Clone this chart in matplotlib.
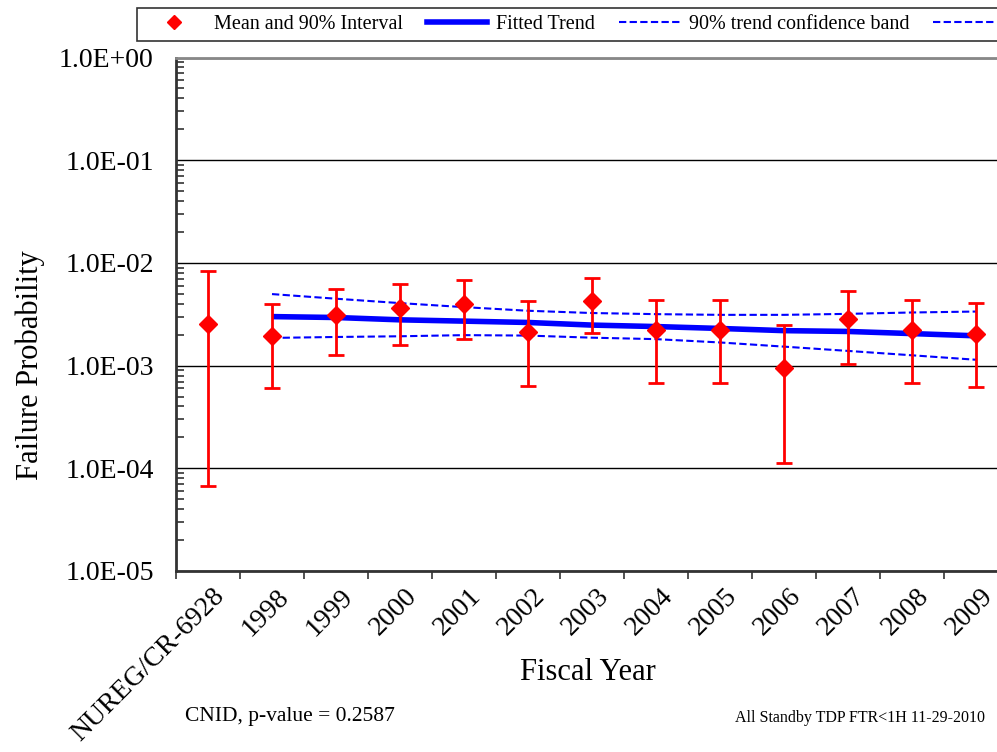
import numpy as np
import matplotlib.pyplot as plt
from matplotlib.lines import Line2D
from matplotlib.ticker import LogLocator, FixedLocator, NullFormatter
from matplotlib.transforms import ScaledTranslation

plt.rcParams['font.family'] = ['Liberation Serif', 'DejaVu Serif']

categories = ['NUREG/CR-6928', '1998', '1999', '2000', '2001', '2002', '2003',
              '2004', '2005', '2006', '2007', '2008', '2009']
mean = [2.55e-3, 1.95e-3, 3.1e-3, 3.6e-3, 3.97e-3, 2.12e-3, 4.3e-3,
        2.22e-3, 2.22e-3, 9.5e-4, 2.84e-3, 2.22e-3, 2.02e-3]
upper = [8.26e-3, 3.97e-3, 5.56e-3, 6.27e-3, 6.8e-3, 4.28e-3, 7.17e-3,
         4.38e-3, 4.38e-3, 2.48e-3, 5.36e-3, 4.38e-3, 4.06e-3]
lower = [6.75e-5, 6.1e-4, 1.27e-3, 1.6e-3, 1.81e-3, 6.38e-4, 2.1e-3,
         6.78e-4, 6.78e-4, 1.12e-4, 1.04e-3, 6.78e-4, 6.24e-4]

# trend is fitted on 1998-2009 only
trend = [3.0e-3, 2.94e-3, 2.79e-3, 2.71e-3, 2.63e-3, 2.48e-3,
         2.40e-3, 2.30e-3, 2.19e-3, 2.15e-3, 2.05e-3, 1.95e-3]
band_hi = [4.97e-3, 4.48e-3, 4.06e-3, 3.71e-3, 3.42e-3, 3.25e-3,
           3.17e-3, 3.12e-3, 3.12e-3, 3.19e-3, 3.29e-3, 3.36e-3]
band_lo = [1.86e-3, 1.9e-3, 1.93e-3, 1.98e-3, 1.96e-3, 1.87e-3,
           1.81e-3, 1.68e-3, 1.53e-3, 1.39e-3, 1.26e-3, 1.14e-3]

W, H = 997, 752
fig = plt.figure(figsize=(W / 100, H / 100), dpi=100)
ax = fig.add_axes([176 / W, 1 - 571 / H, 832 / W, (571 - 57.5) / H])

x = np.arange(len(categories))
xt = x[1:]
dash = (0, (3.5, 1.6))

ax.plot(xt, band_hi, color='blue', lw=1.5, ls=dash, zorder=3)
ax.plot(xt, band_lo, color='blue', lw=1.5, ls=dash, zorder=3)
ax.plot(xt, trend, color='blue', lw=4, zorder=3, solid_capstyle='butt')

m = np.array(mean)
yerr = [m - np.array(lower), np.array(upper) - m]
ax.errorbar(x, m, yerr=yerr, fmt='D', color='red', ms=9, elinewidth=2,
            capsize=6, capthick=2, zorder=4)

ax.set_yscale('log')
ax.set_ylim(1e-5, 1)
ax.set_xlim(-0.5, len(categories) - 0.5)

ax.yaxis.set_minor_locator(LogLocator(base=10, subs=np.arange(2, 10), numticks=10))
ax.yaxis.set_minor_formatter(NullFormatter())
ax.set_yticks([1e-5, 1e-4, 1e-3, 1e-2, 1e-1, 1])
ax.set_yticklabels(['1.0E-05', '1.0E-04', '1.0E-03', '1.0E-02', '1.0E-01', '1.0E+00'])
ax.tick_params(axis='y', which='major', direction='in', length=0, pad=16, labelsize=20)
ax.tick_params(axis='y', which='minor', direction='in', length=6, width=1.2, color='#333333')

ax.set_xticks(x)
ax.set_xticklabels(categories, rotation=45, ha='right', va='center',
                   rotation_mode='anchor')
ax.xaxis.set_minor_locator(FixedLocator(np.arange(-0.5, len(categories), 1)))
ax.tick_params(axis='x', which='major', length=0, pad=20, labelsize=20)
ax.tick_params(axis='x', which='minor', direction='out', length=6, width=1.2, color='#333333')
shift = ScaledTranslation(13 / 100, 6 / 100, fig.dpi_scale_trans)
for lab in ax.get_xticklabels():
    lab.set_transform(lab.get_transform() + shift)

ax.grid(True, which='major', axis='y', color='black', lw=1)
ax.set_axisbelow(True)
ax.spines['right'].set_visible(False)
ax.spines['top'].set_color('#888888')
ax.spines['top'].set_linewidth(2)
for s in ['left', 'bottom']:
    ax.spines[s].set_color('#333333')
    ax.spines[s].set_linewidth(2)

fig.text(30 / W, 1 - 365 / H, 'Failure Probability', rotation=90,
         ha='center', va='center', fontsize=22)
fig.text(588 / W, 1 - 673 / H, 'Fiscal Year', ha='center', va='center', fontsize=22)
fig.text(185 / W, 1 - 717 / H, 'CNID, p-value = 0.2587', ha='left', va='center', fontsize=15.5)
fig.text(985 / W, 1 - 718 / H, 'All Standby TDP FTR<1H 11-29-2010', ha='right',
         va='center', fontsize=11.5)

handles = [
    Line2D([], [], color='red', marker='D', ms=7, ls='none'),
    Line2D([], [], color='blue', lw=4),
    Line2D([], [], color='blue', lw=1.5, ls=dash),
    Line2D([], [], color='blue', lw=1.5, ls=dash),
]
labels = ['Mean and 90% Interval', 'Fitted Trend', '90% trend confidence band', '']
leg = fig.legend(handles, labels, ncol=4, loc='upper left',
                 bbox_to_anchor=(137 / W, 1 - 8 / H), fontsize=14.5,
                 frameon=True, fancybox=False, edgecolor='black',
                 handlelength=3, handletextpad=0.45, columnspacing=1.2,
                 borderpad=0.35, borderaxespad=0)
leg.get_frame().set_linewidth(1.2)

fig.savefig('out.png', dpi=100)
